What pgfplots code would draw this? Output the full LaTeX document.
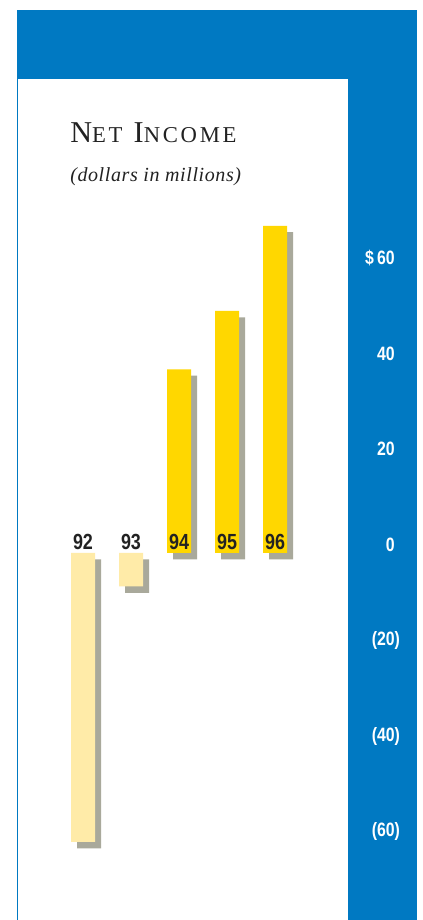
\documentclass[border=0pt]{standalone}
\usepackage{pgfplots}
\pgfplotsset{compat=1.18}
\usepackage{fontspec}
\setmainfont{Liberation Serif}
\newfontfamily\narrow{Liberation Sans}[FakeStretch=0.82]
\definecolor{frameblue}{HTML}{0079C2}
\definecolor{goldbar}{HTML}{FFD700}
\definecolor{palebar}{HTML}{FFEBA8}
\definecolor{shadowgray}{HTML}{A9A99B}
\definecolor{labelink}{HTML}{222222}
\begin{document}
\begin{tikzpicture}
\begin{scope}[x=0.75pt,y=0.75pt]
\fill[white] (0,0) rectangle (422,920);
\fill[frameblue] (17,910) rectangle (417,841);
\fill[frameblue] (348,841) rectangle (417,0);
\fill[frameblue] (16.5,841) rectangle (18,0);
\node[anchor=base west, inner sep=0pt, text=labelink] at (70,777)
  {\addfontfeature{LetterSpace=12}\fontsize{22.7pt}{24pt}\selectfont N{\fontsize{17pt}{18pt}\selectfont ET} I{\fontsize{17pt}{18pt}\selectfont NCOME}};
\node[anchor=base west, inner sep=0pt, text=labelink] at (70,738)
  {\addfontfeature{LetterSpace=3}\fontsize{15pt}{16pt}\selectfont\itshape (dollars in millions)};
\end{scope}
\begin{axis}[
  at={(0pt,0pt)}, anchor=south west,
  scale only axis, width=316.5pt, height=690pt,
  xmin=-1.72917, xmax=7.0625, ymin=-76.73, ymax=115.62,
  axis line style={draw=none}, tick style={draw=none},
  xtick=\empty,
  ytick={-60,-40,-20,0,20,40,60},
  yticklabels={\llap{(}60\rlap{)},\llap{(}40\rlap{)},\llap{(}20\rlap{)},0,20,40,\$\,60},
  yticklabel pos=right,
  yticklabel style={anchor=east, inner sep=0pt, xshift=-20.25pt, yshift=6pt, text=white,
    font=\narrow\bfseries\fontsize{14.5pt}{15pt}\selectfont},
  clip=false,
  ybar, bar width=18pt,
]
\addplot[fill=shadowgray, draw=none, bar shift=0pt, xshift=4.5pt, yshift=-4.8pt]
  coordinates {(0,-60.4) (1,-7.0) (2,38.4) (3,50.6) (4,68.4)};
\addplot[fill=palebar, draw=none, bar shift=0pt]
  coordinates {(0,-60.4) (1,-7.0)};
\addplot[fill=goldbar, draw=none, bar shift=0pt]
  coordinates {(2,38.4) (3,50.6) (4,68.4)};
\addplot[draw=none, fill=none, bar shift=0pt, point meta=explicit symbolic,
  nodes near coords,
  nodes near coords style={anchor=south, inner sep=0pt, yshift=2.25pt, text=labelink,
    font=\narrow\bfseries\fontsize{16.4pt}{17pt}\selectfont}]
  coordinates {(0,0)[92] (1,0)[93] (2,0)[94] (3,0)[95] (4,0)[96]};
\end{axis}
\end{tikzpicture}
\end{document}
